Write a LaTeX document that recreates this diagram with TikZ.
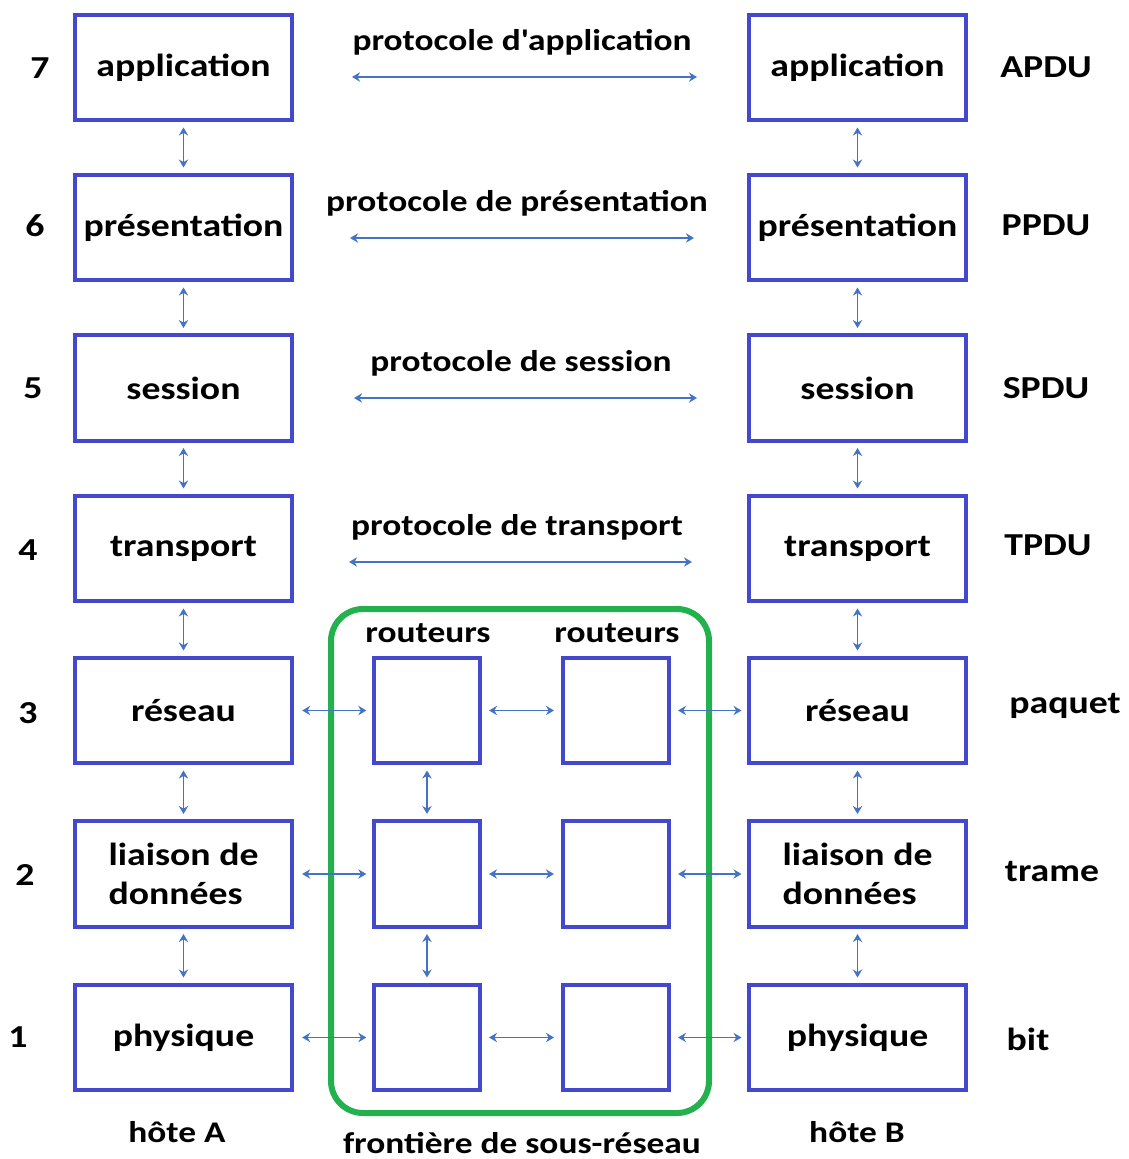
\documentclass[tikz,border=0pt]{standalone}
\usepackage{fontspec}
\setmainfont{Carlito}[FakeStretch=1.18, Ligatures=TeXOff]
\usetikzlibrary{arrows.meta}
\definecolor{boxblue}{RGB}{68,72,204}
\definecolor{arrblue}{RGB}{68,114,196}
\definecolor{netgreen}{RGB}{34,177,76}
\tikzset{
  layer/.style={draw=boxblue, line width=3pt, minimum width=163pt, minimum height=79pt,
    inner sep=0pt, align=left, font=\fontsize{24}{29}\selectfont\bfseries},
  router/.style={draw=boxblue, line width=3pt, minimum width=80pt, minimum height=79pt, inner sep=0pt},
  lbl/.style={font=\fontsize{24}{25}\selectfont\bfseries, inner sep=0pt},
  small/.style={font=\fontsize{22.5}{24}\selectfont\bfseries, inner sep=0pt},
  link/.style={arrblue, line width=1.1pt, {Stealth[length=6pt,width=7pt]}-{Stealth[length=6pt,width=7pt]}},
}
\begin{document}
\begin{tikzpicture}[x=0.75pt,y=-0.75pt]
\useasboundingbox (0,0) rectangle (1128,1159);

% host A
\node[layer] (a7) at (183.5,67.5) {application};
\node[layer] (a6) at (183.5,227.5) {présentation};
\node[layer] (a5) at (183.5,388) {session};
\node[layer] (a4) at (183.5,548.5) {transport};
\node[layer] (a3) at (183.5,710.5) {réseau};
\node[layer] (a2) at (183.5,874) {liaison de\\données};
\node[layer] (a1) at (183.5,1037.5) {physique};

% host B
\node[layer] (b7) at (857.5,67.5) {application};
\node[layer] (b6) at (857.5,227.5) {présentation};
\node[layer] (b5) at (857.5,388) {session};
\node[layer] (b4) at (857.5,548.5) {transport};
\node[layer] (b3) at (857.5,710.5) {réseau};
\node[layer] (b2) at (857.5,874) {liaison de\\données};
\node[layer] (b1) at (857.5,1037.5) {physique};

% routers
\node[router] (r3) at (427,710.5) {};
\node[router] (r2) at (427,874) {};
\node[router] (r1) at (427,1037.5) {};
\node[router] (s3) at (616,710.5) {};
\node[router] (s2) at (616,874) {};
\node[router] (s1) at (616,1037.5) {};

% subnet boundary
\draw[netgreen, line width=4.5pt, rounded corners=24pt] (331,609) rectangle (709,1113);
\node[small] (rt1) at (428,633) {routeurs};
\node[small] (rt2) at (617,633) {routeurs};
\node[small, anchor=base] (fr) at (522,1153) {frontière de sous-réseau};
\node[small] (ha) at (177,1132) {hôte A};
\node[small] (hb) at (857,1132) {hôte B};

% layer numbers
\node[lbl] (n7) at (40,68) {7};
\node[lbl] (n6) at (35,226) {6};
\node[lbl] (n5) at (33,388) {5};
\node[lbl] (n4) at (28,550) {4};
\node[lbl] (n3) at (28,713) {3};
\node[lbl] (n2) at (25,875) {2};
\node[lbl] (n1) at (18,1037) {1};

% data units
\node[lbl] (u7) at (1046,67) {APDU};
\node[lbl] (u6) at (1046,225) {PPDU};
\node[lbl] (u5) at (1046,388) {SPDU};
\node[lbl] (u4) at (1048,545) {TPDU};
\node[lbl] (u3) at (1065,706) {paquet};
\node[lbl] (u2) at (1052,872) {trame};
\node[lbl] (u1) at (1028,1039) {bit};

% peer protocols
\node[small] (p7) at (522,42) {protocole d'application};
\node[small] (p6) at (517,203) {protocole de présentation};
\node[small] (p5) at (521,363) {protocole de session};
\node[small] (p4) at (517,527) {protocole de transport};
\coordinate (p7l) at (352,77);  \coordinate (p7r) at (697,77);
\coordinate (p6l) at (350,238); \coordinate (p6r) at (694,238);
\coordinate (p5l) at (354,398); \coordinate (p5r) at (697,398);
\coordinate (p4l) at (349,562); \coordinate (p4r) at (692,562);
\draw[link] (p7l) -- (p7r);
\draw[link] (p6l) -- (p6r);
\draw[link] (p5l) -- (p5r);
\draw[link] (p4l) -- (p4r);

% vertical links within hosts
\foreach \u/\l in {7/6,6/5,5/4,4/3,3/2,2/1}{
  \draw[link, shorten <=4pt, shorten >=4pt] (a\u) -- (a\l);
  \draw[link, shorten <=4pt, shorten >=4pt] (b\u) -- (b\l);
}
\draw[link, shorten <=4pt, shorten >=4pt] (r3) -- (r2);
\draw[link, shorten <=4pt, shorten >=4pt] (r2) -- (r1);

% horizontal links through the subnet
\foreach \k in {3,2,1}{
  \draw[link, shorten <=6pt, shorten >=4pt] (a\k) -- (r\k);
  \draw[link, shorten <=5pt, shorten >=5pt] (r\k) -- (s\k);
  \draw[link, shorten <=5pt, shorten >=4pt] (s\k) -- (b\k);
}
\end{tikzpicture}
\end{document}
